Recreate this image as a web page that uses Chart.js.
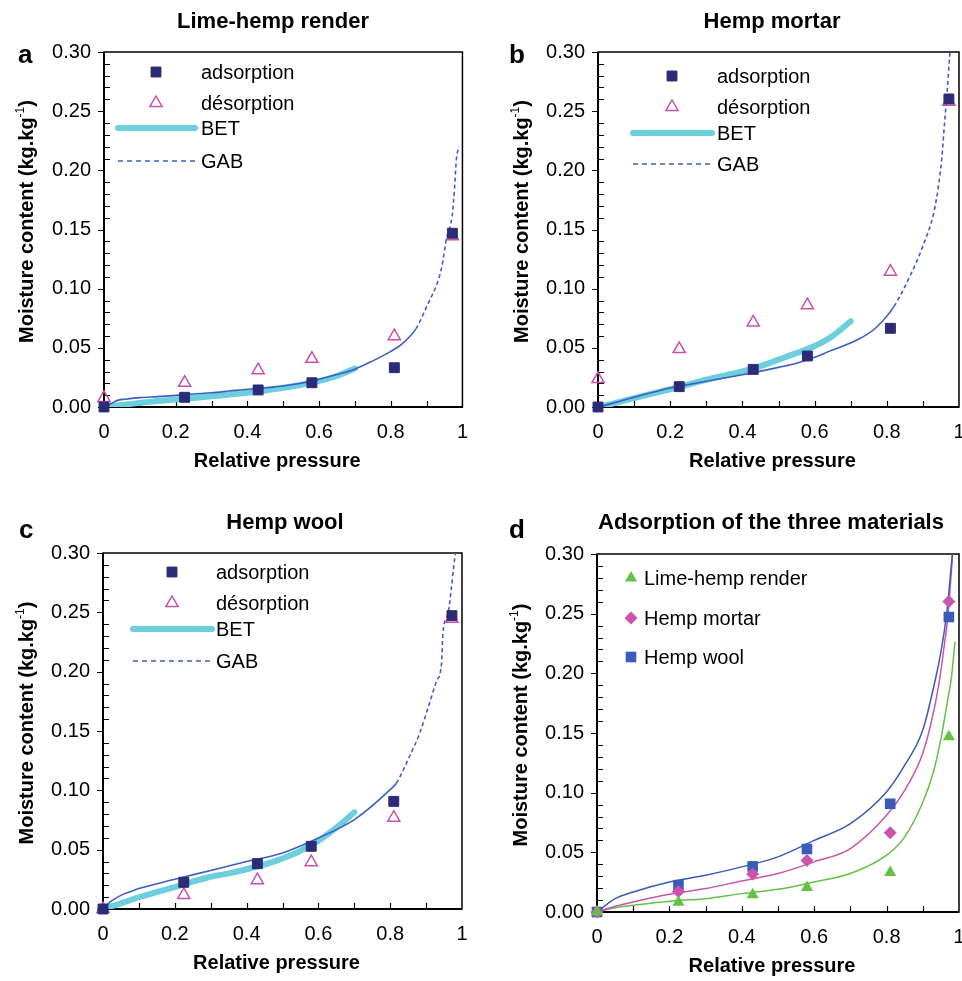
<!DOCTYPE html>
<html lang="en">
<head>
<meta charset="UTF-8">
<title>Sorption isotherms of hemp materials</title>
<script src="https://cdn.jsdelivr.net/npm/chart.js"></script>
<style>
  html, body { margin: 0; padding: 0; background: #fff; overflow: hidden; width: 962px; height: 981px; }
  canvas { position: absolute; }
</style>
</head>
<body>
<canvas id="panelA" width="481" height="490" style="left:0;top:0"></canvas>
<canvas id="panelB" width="500" height="490" style="left:481px;top:0"></canvas>
<canvas id="panelC" width="481" height="491" style="left:0;top:490px"></canvas>
<canvas id="panelD" width="500" height="491" style="left:481px;top:490px"></canvas>
<script>
// relative pressure of the saturated salt solutions
const rh = [0, 0.225, 0.43, 0.58, 0.81, 0.972];

// measured points
const adsLime = [0, 0.0082, 0.0144, 0.0205, 0.0332, 0.1468];
const desLime = [0.0077, 0.0204, 0.0311, 0.0407, 0.0598, 0.1443];
const adsMortar = [0, 0.0172, 0.0318, 0.0431, 0.0665, 0.2603];
const desMortar = [0.0236, 0.049, 0.0715, 0.086, 0.1143, 0.258];
const adsWool = [0, 0.0225, 0.0382, 0.0528, 0.0907, 0.2472];
const desWool = [0, 0.0118, 0.0243, 0.0395, 0.077, 0.2446];

// BET fits (0 to 0.7)
const betX = [0, 0.05, 0.1, 0.15, 0.2, 0.25, 0.3, 0.35, 0.4, 0.45, 0.5, 0.55, 0.6, 0.65, 0.7];
const betLime = [0, 0.0018, 0.0035, 0.005, 0.0063, 0.0076, 0.009, 0.0105, 0.012, 0.014, 0.0162, 0.0188, 0.022, 0.0262, 0.0325];
const betMortar = [0, 0.0035, 0.0075, 0.0113, 0.015, 0.019, 0.023, 0.0265, 0.030, 0.0345, 0.040, 0.0455, 0.0515, 0.060, 0.0725];
const betWool = [0, 0.0048, 0.0099, 0.0142, 0.0185, 0.023, 0.0272, 0.030, 0.0335, 0.0375, 0.0425, 0.049, 0.0575, 0.0685, 0.0815];

// GAB fits
const gabLimeX = [0, 0.02, 0.04, 0.06, 0.1, 0.15, 0.2, 0.25, 0.3, 0.35, 0.4, 0.45, 0.5, 0.55, 0.6, 0.65, 0.7, 0.75, 0.8, 0.83, 0.87, 0.905, 0.93, 0.942, 0.956, 0.971, 0.978, 0.983, 0.99];
const gabLime = [0, 0.003, 0.0058, 0.0066, 0.0079, 0.0088, 0.0098, 0.011, 0.012, 0.0135, 0.015, 0.0162, 0.0177, 0.02, 0.0235, 0.0275, 0.032, 0.039, 0.047, 0.053, 0.066, 0.088, 0.105, 0.118, 0.143, 0.161, 0.185, 0.209, 0.22];
const gabMortarX = [0, 0.05, 0.1, 0.2, 0.3, 0.4, 0.5, 0.55, 0.6, 0.64, 0.72, 0.77, 0.82, 0.86, 0.9, 0.93, 0.943, 0.952, 0.96, 0.966, 0.975];
const gabMortar = [0, 0.0039, 0.0082, 0.016, 0.0217, 0.0273, 0.0335, 0.037, 0.042, 0.047, 0.057, 0.067, 0.085, 0.108, 0.136, 0.164, 0.1865, 0.209, 0.24, 0.262, 0.30];
const gabWoolX = [0, 0.02, 0.05, 0.08, 0.1, 0.2, 0.3, 0.4, 0.5, 0.6, 0.7, 0.8, 0.817, 0.854, 0.882, 0.91, 0.929, 0.943, 0.947, 0.961, 0.97, 0.977, 0.982];
const gabWool = [0, 0.006, 0.0115, 0.015, 0.0172, 0.025, 0.0325, 0.040, 0.0472, 0.0598, 0.0753, 0.1006, 0.106, 0.1287, 0.148, 0.174, 0.192, 0.207, 0.2326, 0.249, 0.269, 0.289, 0.30];

// panel d curves
const fitLimeX = [0, 0.05, 0.1, 0.2, 0.3, 0.4, 0.5, 0.6, 0.7, 0.8, 0.85, 0.9, 0.93, 0.95, 0.96, 0.97, 0.978, 0.989];
const fitLime = [0, 0.0036, 0.0056, 0.009, 0.0112, 0.0154, 0.019, 0.0252, 0.0322, 0.0476, 0.063, 0.092, 0.118, 0.145, 0.162, 0.18, 0.194, 0.2265];
const fitMortarX = [0, 0.05, 0.1, 0.2, 0.3, 0.4, 0.5, 0.6, 0.7, 0.8, 0.85, 0.9, 0.93, 0.946, 0.96, 0.97, 0.98, 0.985];
const fitMortar = [0, 0.0048, 0.0084, 0.0148, 0.0196, 0.026, 0.0322, 0.042, 0.0532, 0.081, 0.102, 0.133, 0.168, 0.194, 0.225, 0.25, 0.29, 0.31];
const fitWoolX = [0, 0.05, 0.1, 0.2, 0.3, 0.4, 0.5, 0.6, 0.7, 0.8, 0.85, 0.9, 0.934, 0.95, 0.966, 0.975, 0.983];
const fitWool = [0, 0.0112, 0.0168, 0.0252, 0.0308, 0.0378, 0.0462, 0.060, 0.074, 0.1007, 0.123, 0.1525, 0.194, 0.218, 0.25, 0.278, 0.305];

const FONT = '"Liberation Sans", Arial, Helvetica, sans-serif';
Chart.defaults.font.family = FONT;
Chart.defaults.color = '#000';
Chart.defaults.animation = false;

const NAVY = '#2b2b78', MAGENTA = '#c94fae', CYAN = '#6ccfdc', GABBLUE = '#3d5fc4';
const GREEN = '#66c044', PINK = '#c955ad', BLUE = '#3a5cb8';

function pts(xs, ys) {
  return xs.map((x, i) => ({x: x, y: ys[i]}));
}

// Excel-like dashing: short flat segments look solid, steep ones dashed
const steepDash = ctx => {
  const dx = Math.abs(ctx.p1.x - ctx.p0.x);
  const dy = Math.abs(ctx.p1.y - ctx.p0.y);
  return dy > 1.5 * dx ? [4, 3] : undefined;
};

function markers(label, ys, style, radius, fill, stroke, bw, row) {
  return {
    label: label, data: pts(rh, ys), showLine: false, clip: false,
    pointStyle: style, pointRadius: radius, pointHoverRadius: radius,
    pointBackgroundColor: fill, pointBorderColor: stroke, pointBorderWidth: bw,
    legendRow: row
  };
}

function curve(label, xs, ys, color, width, row, extra) {
  return Object.assign({
    label: label, data: pts(xs, ys), showLine: true, pointRadius: 0, pointHoverRadius: 0,
    borderColor: color, borderWidth: width, fill: false, cubicInterpolationMode: 'monotone',
    legendRow: row
  }, extra || {});
}

function materialSets(ads, des, betY, gabX, gabY) {
  return [
    markers('adsorption', ads, 'rect', 7, NAVY, NAVY, 1, 0),
    markers('désorption', des, 'triangle', 7, 'rgba(0,0,0,0)', MAGENTA, 1.5, 1),
    curve('GAB', gabX, gabY, GABBLUE, 1.6, 3, {segment: {borderDash: steepDash}, legendDash: [5, 4]}),
    curve('BET', betX, betY, CYAN, 6, 2, {borderCapStyle: 'round', borderJoinStyle: 'round'})
  ];
}

function drawMarker(ctx, style, r, x, y, fill, stroke, bw) {
  ctx.beginPath();
  if (style === 'rect') {
    const s = r * Math.SQRT1_2;
    ctx.rect(x - s, y - s, 2 * s, 2 * s);
  } else if (style === 'triangle') {
    ctx.moveTo(x, y - r);
    ctx.lineTo(x + r * 0.866, y + r / 2);
    ctx.lineTo(x - r * 0.866, y + r / 2);
    ctx.closePath();
  } else {
    ctx.moveTo(x, y - r);
    ctx.lineTo(x + r, y);
    ctx.lineTo(x, y + r);
    ctx.lineTo(x - r, y);
    ctx.closePath();
  }
  ctx.fillStyle = fill;
  ctx.fill();
  if (bw) {
    ctx.lineWidth = bw;
    ctx.strokeStyle = stroke;
    ctx.stroke();
  }
}

const panelDeco = {
  id: 'panelDeco',
  beforeDatasetsDraw(chart) {
    const {ctx, chartArea: a, scales: {x, y}} = chart;
    ctx.save();
    ctx.strokeStyle = '#000';
    ctx.lineWidth = 1.5;
    ctx.strokeRect(a.left, a.top, a.right - a.left, a.bottom - a.top);
    ctx.lineWidth = 2;
    ctx.beginPath();
    ctx.moveTo(a.left, a.top);
    ctx.lineTo(a.left, a.bottom);
    ctx.lineTo(a.right, a.bottom);
    ctx.stroke();
    ctx.lineWidth = 1.2;
    ctx.beginPath();
    for (let i = 0; i <= 30; i++) {
      const py = Math.round(y.getPixelForValue(i / 100)) + 0.5;
      if (i % 5 === 0) {
        ctx.moveTo(a.left - 6, py);
        ctx.lineTo(a.left, py);
      } else {
        ctx.moveTo(a.left, py);
        ctx.lineTo(a.left + 6, py);
      }
    }
    for (let i = 1; i < 10; i++) {
      const px = Math.round(x.getPixelForValue(i / 10)) + 0.5;
      ctx.moveTo(px, a.bottom);
      ctx.lineTo(px, a.bottom - 6);
    }
    ctx.stroke();
    ctx.restore();
  },
  afterDraw(chart, args, o) {
    const {ctx, chartArea: a} = chart;
    ctx.save();
    ctx.fillStyle = '#000';
    ctx.textBaseline = 'alphabetic';

    // panel letter and title
    ctx.textAlign = 'left';
    ctx.font = 'bold 26px ' + FONT;
    ctx.fillText(o.letter, o.letterX, o.letterY);
    ctx.textAlign = 'center';
    ctx.font = 'bold 22px ' + FONT;
    ctx.fillText(o.title, o.titleX, o.titleY);

    // x axis title
    ctx.font = 'bold 20px ' + FONT;
    ctx.fillText('Relative pressure', (a.left + a.right) / 2 - 6, a.bottom + 60);

    // y axis title with superscript
    const main = 'Moisture content (kg.kg';
    ctx.font = 'bold 20px ' + FONT;
    const w1 = ctx.measureText(main).width;
    const w3 = ctx.measureText(')').width;
    ctx.font = '12px ' + FONT;
    const w2 = ctx.measureText('-1').width;
    ctx.translate(o.yTitleX, (a.top + a.bottom) / 2 - 8);
    ctx.rotate(-Math.PI / 2);
    ctx.textAlign = 'left';
    let sx = -(w1 + w2 + w3) / 2;
    ctx.font = 'bold 20px ' + FONT;
    ctx.fillText(main, sx, 0);
    ctx.font = '12px ' + FONT;
    ctx.fillText('-1', sx + w1, -9);
    ctx.font = 'bold 20px ' + FONT;
    ctx.fillText(')', sx + w1 + w2, 0);
    ctx.setTransform(1, 0, 0, 1, 0, 0);

    // legend
    ctx.font = '20px ' + FONT;
    ctx.textAlign = 'left';
    chart.data.datasets.forEach(ds => {
      const row = ds.legendRow;
      if (row < 0) return;
      const ly = a.top + o.rows[row];
      if (ds.showLine) {
        ctx.beginPath();
        ctx.strokeStyle = ds.borderColor;
        ctx.lineWidth = ds.borderWidth;
        ctx.lineCap = ds.borderCapStyle || 'butt';
        ctx.setLineDash(ds.legendDash || []);
        ctx.moveTo(a.left + o.line0, ly);
        ctx.lineTo(a.left + o.line1, ly);
        ctx.stroke();
        ctx.setLineDash([]);
        ctx.lineCap = 'butt';
      } else {
        drawMarker(ctx, ds.pointStyle, ds.pointRadius, a.left + o.markerX, ly,
          ds.pointBackgroundColor, ds.pointBorderColor, ds.pointBorderWidth);
      }
      ctx.fillStyle = '#000';
      ctx.fillText(ds.label, a.left + o.textX, ly + 7);
    });
    ctx.restore();
  }
};
Chart.register(panelDeco);

function makePanel(id, datasets, geo, deco) {
  return new Chart(document.getElementById(id), {
    type: 'line',
    data: {datasets: datasets},
    options: {
      responsive: false,
      animation: false,
      layout: {padding: {left: 0, right: geo.padRight, top: geo.padTop, bottom: 0}},
      plugins: {legend: {display: false}, tooltip: {enabled: false}, panelDeco: deco},
      scales: {
        x: {
          type: 'linear', min: 0, max: 1,
          grid: {display: false, drawTicks: false},
          border: {display: false},
          ticks: {
            stepSize: 0.2, padding: 13, maxRotation: 0, autoSkip: false,
            font: {size: 20}, color: '#000',
            callback: v => String(Math.round(v * 10) / 10)
          },
          afterFit: s => { s.height = geo.xHeight; }
        },
        y: {
          type: 'linear', min: 0, max: 0.3,
          grid: {display: false, drawTicks: false},
          border: {display: false},
          ticks: {
            stepSize: 0.05, padding: 13, font: {size: 20}, color: '#000',
            callback: v => v.toFixed(2)
          },
          afterFit: s => { s.width = geo.yWidth; }
        }
      }
    }
  });
}

const legend3 = (mx, l0, l1, tx, rows) => ({markerX: mx, line0: l0, line1: l1, textX: tx, rows: rows});

makePanel('panelA', materialSets(adsLime, desLime, betLime, gabLimeX, gabLime),
  {yWidth: 104, padRight: 17, padTop: 52, xHeight: 83},
  Object.assign({letter: 'a', letterX: 18, letterY: 63, title: 'Lime-hemp render', titleX: 273, titleY: 28, yTitleX: 33},
    legend3(52, 14, 91, 97, [20, 51, 76, 109])));

makePanel('panelB', materialSets(adsMortar, desMortar, betMortar, gabMortarX, gabMortar),
  {yWidth: 117, padRight: 22, padTop: 52, xHeight: 83},
  Object.assign({letter: 'b', letterX: 28, letterY: 63, title: 'Hemp mortar', titleX: 291, titleY: 28, yTitleX: 47},
    legend3(74, 35, 114, 119, [24, 55, 81, 112])));

makePanel('panelC', materialSets(adsWool, desWool, betWool, gabWoolX, gabWool),
  {yWidth: 103, padRight: 19, padTop: 63, xHeight: 72},
  Object.assign({letter: 'c', letterX: 19, letterY: 48, title: 'Hemp wool', titleX: 285, titleY: 39, yTitleX: 33},
    legend3(69, 30, 109, 113, [19, 50, 76, 108])));

makePanel('panelD', [
    markers('Lime-hemp render', adsLime, 'triangle', 7, GREEN, GREEN, 0, 0),
    markers('Hemp mortar', adsMortar, 'rectRot', 6.5, PINK, PINK, 0, 1),
    markers('Hemp wool', adsWool, 'rect', 7.5, BLUE, BLUE, 0, 2),
    curve('', fitWoolX, fitWool, BLUE, 1.5, -1),
    curve('', fitMortarX, fitMortar, PINK, 1.5, -1),
    curve('', fitLimeX, fitLime, GREEN, 1.5, -1)
  ],
  {yWidth: 116, padRight: 22, padTop: 64, xHeight: 69},
  {letter: 'd', letterX: 28, letterY: 48, title: 'Adsorption of the three materials', titleX: 290, titleY: 39, yTitleX: 46,
    markerX: 34, line0: 0, line1: 0, textX: 47, rows: [24, 64, 103]});
</script>
</body>
</html>
